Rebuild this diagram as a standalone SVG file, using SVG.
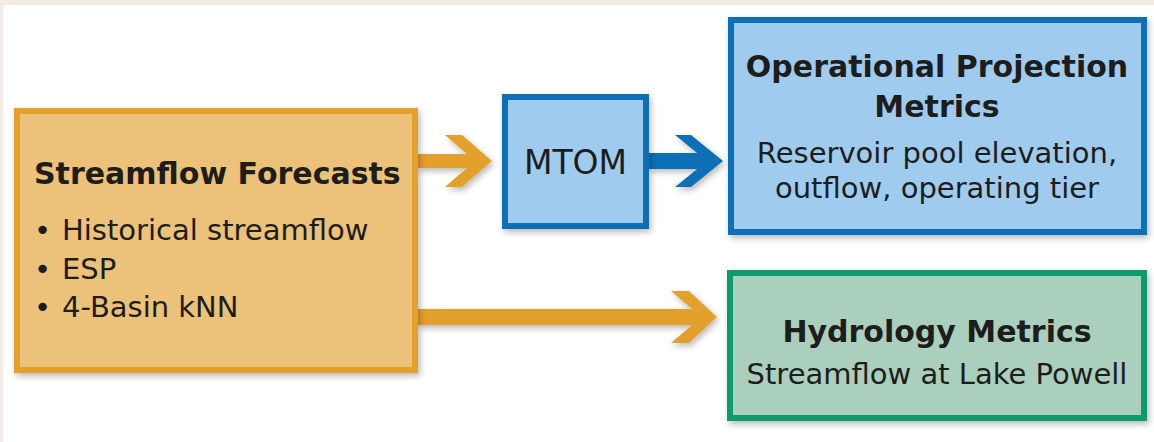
<svg xmlns="http://www.w3.org/2000/svg" width="1154" height="442" viewBox="0 0 1154 442">
  <style>
    .t { font-family: "DejaVu Sans", "Liberation Sans", sans-serif; fill: #1d1d1b; }
    .b { font-weight: bold; font-size: 30px; }
    .r { font-size: 29px; }
    .orange { fill: #ecc179; stroke: #e3a02a; stroke-width: 6; }
    .blue { fill: #9fcbee; stroke: #0b6fb7; stroke-width: 6; }
    .green { fill: #abcfbd; stroke: #0e9b6e; stroke-width: 6; }
  </style>
  <defs>
    <filter id="sh" x="-10%" y="-10%" width="125%" height="130%">
      <feDropShadow dx="2" dy="3" stdDeviation="3" flood-color="#000" flood-opacity="0.28"/>
    </filter>
  </defs>
  <rect x="0" y="0" width="1154" height="442" fill="#ffffff"/>
  <rect x="0" y="0" width="1154" height="5" fill="#f3ebe5"/>
  <rect x="0" y="0" width="3" height="442" fill="#f3ebe5"/>

  <g id="connectors" filter="url(#sh)">
    <polygon id="arrow-forecast-mtom" fill="#e3a02a" points="417,154 466.9,154 445,135 462,135 492,161 462,187 445,187 466.9,168 417,168"/>
    <polygon id="arrow-mtom-ops" fill="#0b6fb7" points="649,153 697.2,153 675,135 691,135 723,161 691,187 675,187 697.2,169 649,169"/>
    <polygon id="arrow-forecast-hydro" fill="#e3a02a" points="417,309 692,309 671,291 689,291 717,317 689,343 671,343 692,325 417,325"/>
  </g>

  <g id="streamflow-forecasts">
    <rect class="orange" x="17" y="111" width="398" height="259" filter="url(#sh)"/>
    <text class="t b" x="34" y="184">Streamflow Forecasts</text>
    <text class="t r" y="240"><tspan x="34">•</tspan><tspan x="62">Historical streamflow</tspan></text>
    <text class="t r" y="279"><tspan x="34">•</tspan><tspan x="62">ESP</tspan></text>
    <text class="t r" y="317"><tspan x="34">•</tspan><tspan x="62">4-Basin kNN</tspan></text>
  </g>

  <g id="mtom">
    <rect class="blue" x="505" y="97" width="141" height="129" filter="url(#sh)"/>
    <text class="t" x="575.5" y="174" font-size="33" text-anchor="middle">MTOM</text>
  </g>

  <g id="operational-projection-metrics">
    <rect class="blue" x="731" y="20" width="413" height="212" filter="url(#sh)"/>
    <text class="t b" x="937" y="77" text-anchor="middle">Operational Projection</text>
    <text class="t b" x="937" y="117" text-anchor="middle">Metrics</text>
    <text class="t r" x="937" y="163" text-anchor="middle">Reservoir pool elevation,</text>
    <text class="t r" x="937" y="198" text-anchor="middle">outflow, operating tier</text>
  </g>

  <g id="hydrology-metrics">
    <rect class="green" x="730" y="273" width="414" height="145" filter="url(#sh)"/>
    <text class="t b" x="937" y="342" text-anchor="middle">Hydrology Metrics</text>
    <text class="t r" x="937" y="384" text-anchor="middle">Streamflow at Lake Powell</text>
  </g>
</svg>
